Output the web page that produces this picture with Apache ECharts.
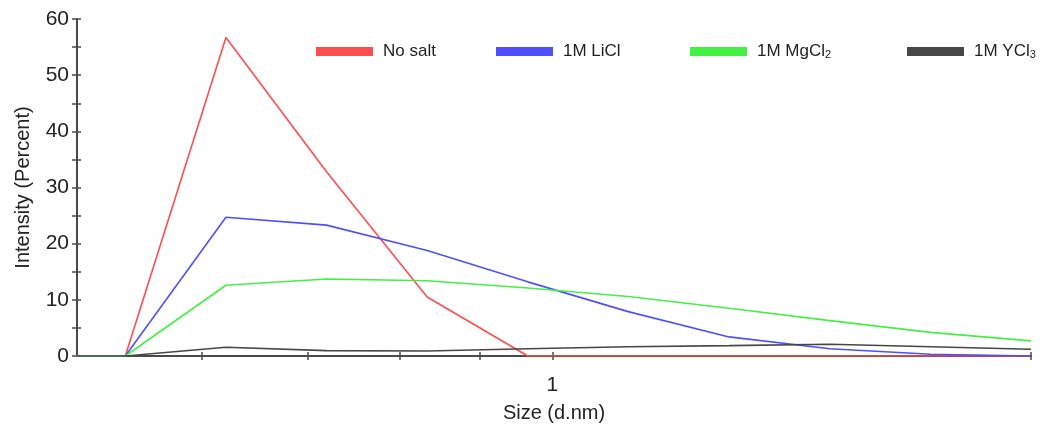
<!DOCTYPE html>
<html><head><meta charset="utf-8">
<script src="https://cdn.jsdelivr.net/npm/echarts@6/dist/echarts.min.js"></script>
<style>html,body{margin:0;padding:0;background:#fff}#c{width:1046px;height:428px}</style>
</head><body><div id="c"></div>
<script>
// Size classes (d.nm) and intensity (%)
const sizes  = [0.4632, 0.5365, 0.6213, 0.7195, 0.8332, 0.9649, 1.117, 1.294, 1.499, 1.736, 2.010];
const noSalt = [0, 0, 56.7, 32.8, 10.5, 0, 0, 0, 0, 0, 0];
const liCl   = [0, 0, 24.7, 23.3, 18.8, 13.2, 7.9, 3.4, 1.3, 0.3, 0];
const mgCl2  = [0, 0, 12.6, 13.7, 13.4, 12.1, 10.6, 8.5, 6.3, 4.2, 2.7];
const ycl3   = [0, 0, 1.55, 0.95, 0.9, 1.3, 1.65, 1.85, 2.1, 1.65, 1.2];
const seriesNames = ['No salt', '1M LiCl', '1M MgCl2', '1M YCl3'];
const seriesColors = ['#ff4d4d', '#4f4fff', '#44f044', '#474747'];
const xTickValues = [0.6, 0.7, 0.8, 0.9, 1, 2.01];
const xLabelValues = [1];
const yTickValues = [0, 5, 10, 15, 20, 25, 30, 35, 40, 45, 50, 55, 60];
const yLabelValues = [0, 10, 20, 30, 40, 50, 60];

const allValues = [noSalt, liCl, mgCl2, ycl3];
const FONT = '"Liberation Sans", Arial, sans-serif';
const AXIS_COLOR = '#4a4a4a';

function pairs(vals) { return sizes.map((s, i) => [s, vals[i]]); }

const xBase = {
  type: 'log', logBase: 10, min: 0.5, max: 2.01,
  splitLine: { show: false },
  position: 'bottom'
};
const yBase = {
  type: 'value', min: 0, max: 60, interval: 5,
  splitLine: { show: false },
  position: 'left'
};

const legendPos = [311, 491, 685, 902];

const chart = echarts.init(document.getElementById('c'));
chart.setOption({
  animation: false,
  backgroundColor: '#ffffff',
  textStyle: { fontFamily: FONT },
  grid: { left: 77, right: 15, top: 19, bottom: 72, containLabel: false },
  legend: seriesNames.map((n, i) => ({
    data: [n], left: legendPos[i], top: 38,
    icon: 'rect', itemWidth: 57, itemHeight: 9,
    selectedMode: false,
    formatter: name => {
      const m = name.match(/^(.*Cl)(\d)$/);
      return m ? '{n|' + m[1] + '}{s|' + m[2] + '}' : '{n|' + name + '}';
    },
    textStyle: {
      fontFamily: FONT, fontSize: 17, color: '#222',
      rich: {
        n: { fontFamily: FONT, fontSize: 17, color: '#222', padding: [0, 0, 0, 5] },
        s: { fontFamily: FONT, fontSize: 11, color: '#222', verticalAlign: 'bottom', padding: [5, 0, 0, 0] }
      }
    }
  })),
  xAxis: [
    Object.assign({}, xBase, {
      name: 'Size (d.nm)', nameLocation: 'middle', nameGap: 47,
      nameTextStyle: { fontFamily: FONT, fontSize: 20, color: '#222' },
      axisLine: { show: true, lineStyle: { color: AXIS_COLOR, width: 2 } },
      axisTick: { show: true, length: 4, customValues: xTickValues, lineStyle: { color: AXIS_COLOR, width: 1.5 } },
      axisLabel: { show: true, customValues: xLabelValues, margin: 19, fontFamily: FONT, fontSize: 21, color: '#222' },
      minorTick: { show: false }
    }),
    Object.assign({}, xBase, {
      axisLine: { show: false },
      axisTick: { show: true, inside: true, length: 4, customValues: xTickValues, lineStyle: { color: AXIS_COLOR, width: 1.5 } },
      axisLabel: { show: false }
    })
  ],
  yAxis: [
    Object.assign({}, yBase, {
      name: 'Intensity (Percent)', nameLocation: 'middle', nameGap: 44,
      nameTextStyle: { fontFamily: FONT, fontSize: 20, color: '#222' },
      axisLine: { show: true, lineStyle: { color: AXIS_COLOR, width: 2 } },
      axisTick: { show: true, length: 5, customValues: yTickValues, lineStyle: { color: AXIS_COLOR, width: 1.5 } },
      axisLabel: { show: true, customValues: yLabelValues, margin: 8, fontFamily: FONT, fontSize: 21, color: '#222' }
    }),
    Object.assign({}, yBase, {
      axisLine: { show: false },
      axisTick: { show: true, inside: true, length: 4, customValues: yTickValues, lineStyle: { color: AXIS_COLOR, width: 1.5 } },
      axisLabel: { show: false }
    })
  ],
  series: seriesNames.map((n, i) => ({
    name: n, type: 'line', xAxisIndex: 0, yAxisIndex: 0,
    data: pairs(allValues[i]),
    showSymbol: false, symbol: 'none', clip: true,
    color: seriesColors[i],
    lineStyle: { color: seriesColors[i], width: 1.6 },
    itemStyle: { color: seriesColors[i] },
    z: 3
  }))
});
</script>
</body></html>
